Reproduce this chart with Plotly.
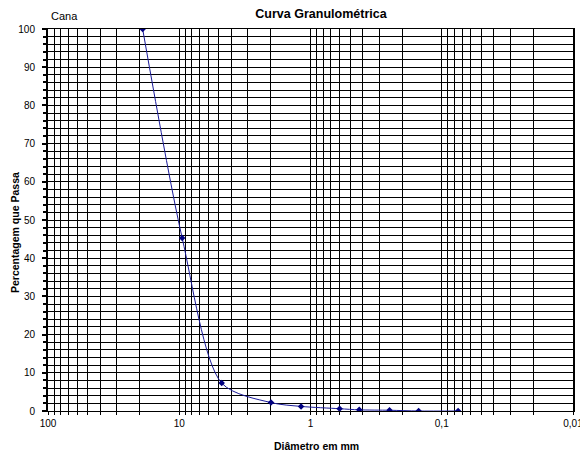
import plotly.graph_objects as go

diam = [19, 9.5, 4.75, 2.0, 1.18, 0.6, 0.425, 0.25, 0.15, 0.075]
passing = [100, 45.3, 7.3, 2.2, 1.2, 0.6, 0.3, 0.2, 0.0, 0.0]

x_grid = [m * 10 ** e for e in (-2, -1, 0, 1) for m in range(1, 10)] + [100]
x_labels = {100: "100", 10: "10", 1: "1", 0.1: "0,1", 0.01: "0,01"}
x_text = [x_labels.get(round(v, 6), "") for v in x_grid]

font = "Liberation Sans, Arial, sans-serif"

# page body has an 8px margin; figure is sized so the plot lands where the reference has it
OFF = 8
W, H = 580, 448
ML, MR, MT, MB = 40, 15, 21, 45
PW, PH = W - ML - MR, H - MT - MB


def px(xpage):
    return (xpage - OFF - ML) / PW


def py(ypage):
    return 1 - (ypage - OFF - MT) / PH


fig = go.Figure()
fig.add_trace(go.Scatter(
    x=diam, y=passing, mode="lines+markers",
    line=dict(color="#1a1a99", width=1, shape="spline", smoothing=0.8),
    marker=dict(symbol="diamond", size=5, color="#000080"),
    showlegend=False,
))

fig.update_layout(
    width=W, height=H,
    margin=dict(l=ML, r=MR, t=MT, b=MB),
    paper_bgcolor="white", plot_bgcolor="white",
    font=dict(family=font, size=10, color="black"),
    title=dict(text="<b>Curva Granulométrica</b>", x=(321 - OFF) / W, xanchor="center",
               xref="container", yref="container", y=1 - 1.5 / H, yanchor="top",
               pad=dict(t=0, b=0), font=dict(size=12.5, family=font)),
    annotations=[
        dict(text="Cana", xref="paper", yref="paper", x=px(64), y=py(16),
             xanchor="center", yanchor="middle", showarrow=False,
             font=dict(size=11, family=font)),
        dict(text="<b>Diâmetro em mm</b>", xref="paper", yref="paper",
             x=px(316), y=py(446),
             xanchor="center", yanchor="middle", showarrow=False,
             font=dict(size=10.5, family=font)),
        dict(text="<b>Percentagem que Passa</b>", xref="paper", yref="paper",
             x=px(15), y=py(233), textangle=-90,
             xanchor="center", yanchor="middle", showarrow=False,
             font=dict(size=10.5, family=font)),
    ],
)

fig.update_xaxes(
    type="log", range=[2, -2], automargin=False,
    tickvals=x_grid, ticktext=x_text, tickangle=0,
    tickfont=dict(size=10),
    showgrid=True, gridcolor="black", gridwidth=1,
    ticks="outside", ticklen=3, tickcolor="black",
    showline=True, linecolor="black", linewidth=1, mirror=True,
    zeroline=False,
)
fig.update_yaxes(
    range=[0, 100], dtick=10, tick0=0, automargin=False,
    tickfont=dict(size=10), ticklabelstandoff=5,
    showgrid=True, gridcolor="black", gridwidth=1,
    ticks="outside", ticklen=4, tickcolor="black", tickwidth=2,
    minor=dict(dtick=2, showgrid=True, gridcolor="black", gridwidth=1,
               ticks="outside", ticklen=3, tickcolor="black"),
    showline=True, linecolor="black", linewidth=2, mirror=True,
    zeroline=False,
)

fig.write_html("out.html")
